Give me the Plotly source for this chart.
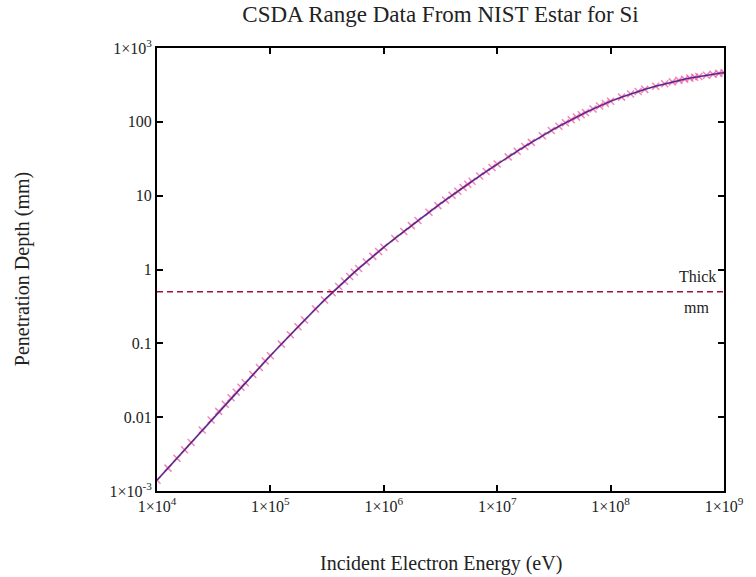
import plotly.graph_objects as go

# ---- data ----
energy_MeV = [0.01, 0.0125, 0.015, 0.0175, 0.02, 0.025, 0.03, 0.035, 0.04, 0.045,
              0.05, 0.055, 0.06, 0.07, 0.08, 0.09,
              0.1, 0.125, 0.15, 0.175, 0.2, 0.25, 0.3, 0.35, 0.4, 0.45,
              0.5, 0.55, 0.6, 0.7, 0.8, 0.9,
              1.0, 1.25, 1.5, 1.75, 2.0, 2.5, 3.0, 3.5, 4.0, 4.5,
              5.0, 5.5, 6.0, 7.0, 8.0, 9.0,
              10.0, 12.5, 15.0, 17.5, 20.0, 25.0, 30.0, 35.0, 40.0, 45.0,
              50.0, 55.0, 60.0, 70.0, 80.0, 90.0,
              100.0, 125.0, 150.0, 175.0, 200.0, 250.0, 300.0, 350.0, 400.0, 450.0,
              500.0, 550.0, 600.0, 700.0, 800.0, 900.0, 1000.0]

range_mm = [1.40e-3, 2.04e-3, 2.78e-3, 3.62e-3, 4.55e-3, 6.70e-3, 9.18e-3, 1.197e-2, 1.50e-2, 1.83e-2,
            2.17e-2, 2.54e-2, 2.93e-2, 3.78e-2, 4.72e-2, 5.75e-2,
            0.0680, 0.0976, 0.1309, 0.1675, 0.2068, 0.2922, 0.3857, 0.4842, 0.5879, 0.695,
            0.8055, 0.918, 1.032, 1.267, 1.507, 1.752,
            2.001, 2.628, 3.270, 3.929, 4.598, 5.957, 7.335, 8.712, 10.11, 11.50,
            12.91, 14.31, 15.70, 18.49, 21.27, 24.04,
            26.80, 33.50, 40.06, 46.44, 52.71, 64.71, 76.1, 86.9, 97.1, 106.8,
            116.1, 125.0, 133.4, 149.2, 163.9, 177.6,
            190.3, 216.1, 238.5, 258.1, 275.4, 304.1, 327.7, 347.5, 364.2, 378.4,
            390.8, 401.5, 411.3, 428.0, 441.8, 453.4, 463.4]

thick_mm = 0.5

x_tickvals = [1e4, 1e5, 1e6, 1e7, 1e8, 1e9]
x_ticktext = ["1×10<sup>4</sup>", "1×10<sup>5</sup>", "1×10<sup>6</sup>",
              "1×10<sup>7</sup>", "1×10<sup>8</sup>", "1×10<sup>9</sup>"]
y_tickvals = [1e-3, 0.01, 0.1, 1, 10, 100, 1000]
y_ticktext = ["1×10<sup>-3</sup>", "0.01", "0.1", "1", "10", "100", "1×10<sup>3</sup>"]

energy_eV = [e * 1e6 for e in energy_MeV]

FONT = "Liberation Serif, Times New Roman, serif"
TXT = "#222"

fig = go.Figure()

# data markers
fig.add_trace(go.Scatter(
    x=energy_eV, y=range_mm, mode="markers",
    marker=dict(symbol="x-thin-open", size=7, color="rgba(240,80,160,0.7)",
                line=dict(color="rgba(240,80,160,0.7)", width=1.5)),
    showlegend=False, hoverinfo="skip"))
# red line
fig.add_trace(go.Scatter(
    x=energy_eV, y=range_mm, mode="lines",
    line=dict(color="rgba(200,20,60,0.45)", width=2),
    showlegend=False))
# blue curve on top
fig.add_trace(go.Scatter(
    x=energy_eV, y=range_mm, mode="lines",
    line=dict(color="#3a2a9c", width=1.2),
    showlegend=False))
# thickness line
fig.add_trace(go.Scatter(
    x=[energy_eV[0], energy_eV[-1]], y=[thick_mm, thick_mm], mode="lines",
    line=dict(color="#a0103a", width=1.3, dash="6px,4px"),
    showlegend=False))

fig.update_layout(
    width=756, height=577,
    margin=dict(l=157, r=29, t=48, b=86),
    paper_bgcolor="white", plot_bgcolor="white",
    font=dict(family=FONT, color=TXT, size=16),
    title=dict(text="CSDA Range Data From NIST Estar for Si",
               font=dict(family=FONT, size=23, color=TXT),
               x=0.5, xanchor="center", xref="paper",
               y=1 - 14 / 577, yref="container", yanchor="middle"),
)

fig.update_xaxes(
    type="log", range=[4, 9],
    tickvals=x_tickvals, ticktext=x_ticktext,
    showgrid=False, zeroline=False,
    showline=True, linecolor="black", linewidth=2, mirror="ticks",
    ticks="inside", ticklen=6, tickwidth=1.5, tickcolor="black",
    tickfont=dict(family=FONT, size=16, color=TXT),
)
fig.update_yaxes(
    type="log", range=[-3, 3],
    tickvals=y_tickvals, ticktext=y_ticktext,
    showgrid=False, zeroline=False,
    showline=True, linecolor="black", linewidth=2, mirror="ticks",
    ticks="inside", ticklen=6, tickwidth=1.5, tickcolor="black",
    tickfont=dict(family=FONT, size=16, color=TXT),
)

# axis titles
fig.add_annotation(text="Incident Electron Energy (eV)", xref="paper", yref="paper",
                   x=0.5, y=(491 - 563) / 443, xanchor="center", yanchor="middle",
                   showarrow=False, font=dict(family=FONT, size=20, color=TXT))
fig.add_annotation(text="Penetration Depth (mm)", xref="paper", yref="paper",
                   x=(22 - 157) / 570, y=0.5, xanchor="center", yanchor="middle",
                   textangle=-90, showarrow=False, font=dict(family=FONT, size=20, color=TXT))
# Thick / mm label
fig.add_annotation(text="Thick", xref="paper", yref="y", x=(700 - 157) / 570, y=-0.301,
                   yshift=15, xanchor="center", yanchor="middle", showarrow=False,
                   font=dict(family=FONT, size=16, color=TXT))
fig.add_annotation(text="mm", xref="paper", yref="y", x=(699 - 157) / 570, y=-0.301,
                   yshift=-16, xanchor="center", yanchor="middle", showarrow=False,
                   font=dict(family=FONT, size=16, color=TXT))

fig.write_html("out.html", config={"displayModeBar": False},
               post_script="document.body.style.margin='0';")
